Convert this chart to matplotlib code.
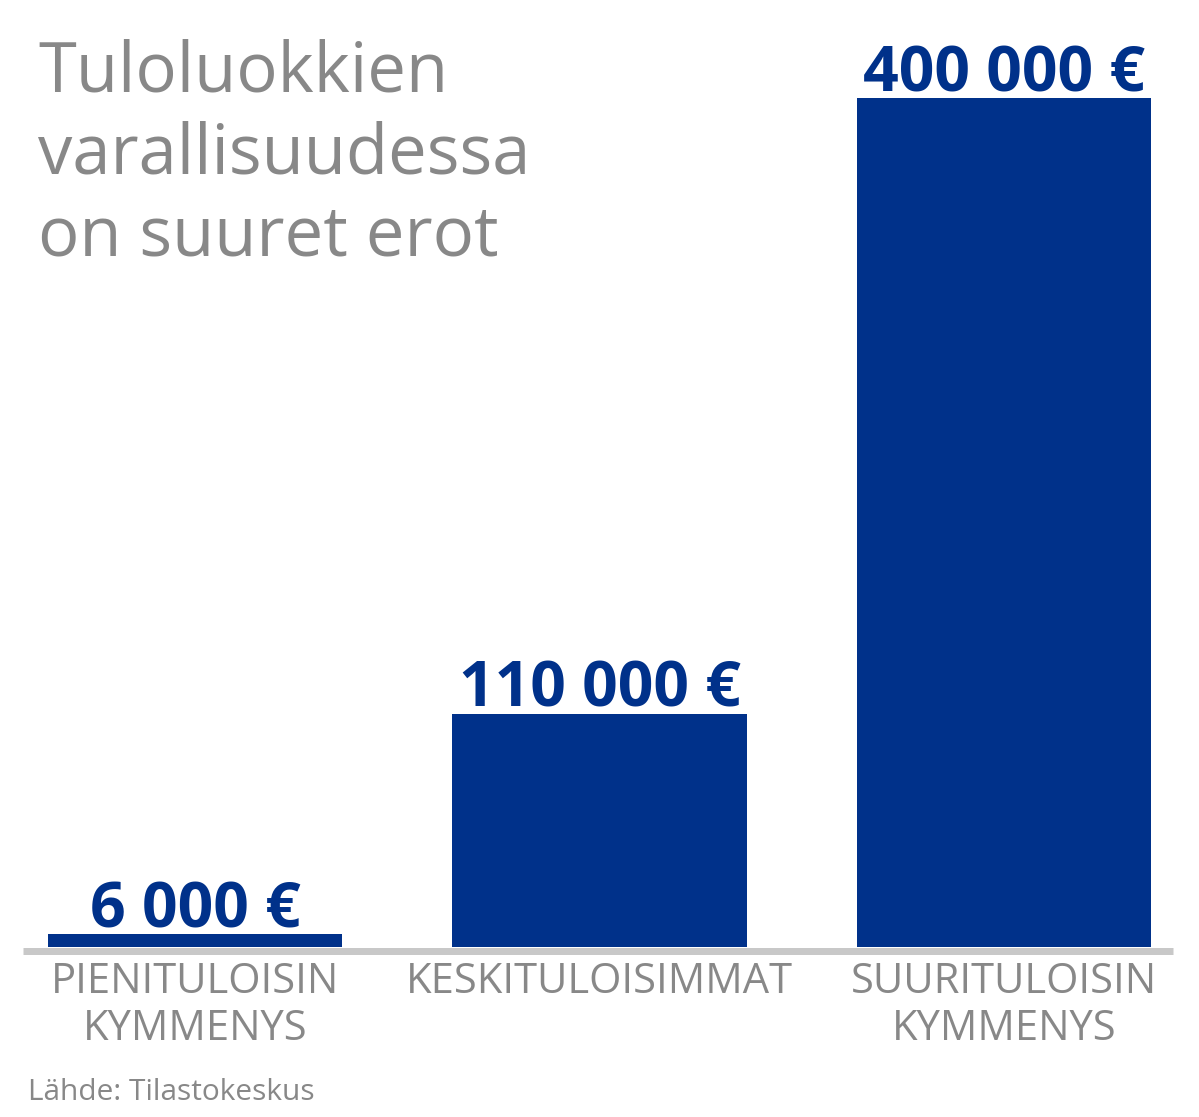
import matplotlib.pyplot as plt

W, H = 1199, 1117

categories = ['PIENITULOISIN\nKYMMENYS', 'KESKITULOISIMMAT', 'SUURITULOISIN\nKYMMENYS']
values = [6000, 110000, 400000]
value_labels = ['6 000 €', '110 000 €', '400 000 €']
title_lines = ['Tuloluokkien', 'varallisuudessa', 'on suuret erot']
source = 'Lähde: Tilastokeskus'

blue = '#00318a'
grey = '#888888'
line_grey = '#c8c8c8'

plt.rcParams['font.family'] = ['Open Sans', 'DejaVu Sans']

fig = plt.figure(figsize=(W / 100, H / 100), dpi=100)

def fx(px):
    return px / W

def fy(px):
    return 1 - px / H

# axes: x from 25 to 1172 px, y from baseline 947 to 98 (400 000)
ax = fig.add_axes([fx(25), fy(947), fx(1172) - fx(25), (947 - 98) / H])
x = range(len(values))
ax.bar(x, values, width=0.727, color=blue, zorder=3)
ax.set_xlim(-0.420, 2.415)
ax.set_ylim(0, 400000)
ax.axis('off')

# grey baseline just under the bars
fig.add_artist(plt.Line2D([fx(23), fx(1173)], [fy(950.5), fy(950.5)],
                          color=line_grey, lw=7 * 0.72, solid_capstyle='butt'))

for i, (v, lab) in enumerate(zip(values, value_labels)):
    ax.annotate(lab, (i, v), xytext=(0, 5), textcoords='offset points',
                ha='center', va='baseline', fontsize=45, fontweight='bold',
                color=blue)

centers = [195, 599.5, 1004]
for c, cat in zip(centers, categories):
    for j, line in enumerate(cat.split('\n')):
        fig.text(fx(c), fy(993 + 47 * j), line, ha='center', va='baseline',
                 fontsize=30, color=grey)

for j, line in enumerate(title_lines):
    fig.text(fx(38), fy(91 + 82 * j), line, ha='left', va='baseline',
             fontsize=49.5, color=grey)

fig.text(fx(28), fy(1100), source, ha='left', va='baseline',
         fontsize=21.5, color=grey)

fig.savefig('out.png', dpi=100, facecolor='white')
